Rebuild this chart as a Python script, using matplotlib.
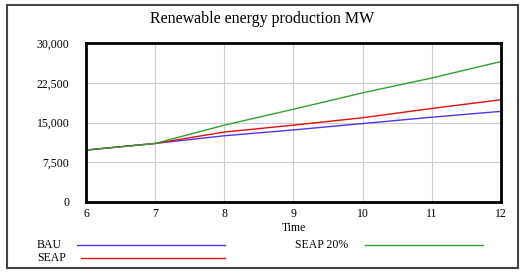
import matplotlib.pyplot as plt
from matplotlib.lines import Line2D
from matplotlib.patches import Rectangle

plt.rcParams['font.family'] = ['Liberation Serif', 'DejaVu Serif']

time = [6, 7, 8, 9, 10, 11, 12]
bau = [9800, 11050, 12500, 13600, 14800, 16000, 17100]
seap = [9800, 11050, 13200, 14500, 15900, 17650, 19300]
seap20 = [9800, 11050, 14500, 17500, 20600, 23400, 26500]
names = ['BAU', 'SEAP', 'SEAP 20%']
colors = ['#5533ee', '#e01010', '#30a030']
yticks = [0, 7500, 15000, 22500, 30000]

W, H = 527, 273
fig = plt.figure(figsize=(W / 100, H / 100), dpi=100)
fig.patches.append(Rectangle((7 / W, 1 - 268 / H), 511 / W, 263 / H,
                             transform=fig.transFigure, fill=False,
                             edgecolor='#444444', linewidth=1.5))

ax = fig.add_axes([86 / W, 1 - 202 / H, 415 / W, 159 / H])
series = [bau, seap, seap20]
for vals, c in zip(series, colors):
    ax.plot(time, vals, color=c, linewidth=1.0)

ax.set_xlim(6, 12)
ax.set_ylim(0, 30000)
ax.set_xticks(time)
ax.set_yticks(yticks)
ax.set_yticklabels([f'{v:,}' for v in yticks])
ax.tick_params(length=0, labelsize=8.5, pad=4)
ax.tick_params(axis='y', pad=12)
ax.grid(color='#cccccc', linewidth=0.8)
for s in ax.spines.values():
    s.set_linewidth(2)
    s.set_color('black')
ax.set_xlabel('Time', fontsize=8.5, labelpad=2)
fig.text(262 / W, 1 - 19 / H, 'Renewable energy production MW',
         ha='center', va='center', fontsize=11.5)

# legend drawn below the axes
leg = [(names[0], 37, 245, 77, 225),
       (names[1], 37, 258, 81, 225),
       (names[2], 295, 245, 365, 483)]
for (label, tx, ty, x0, x1), c in zip(leg, colors):
    fig.text(tx / W, 1 - ty / H, label, ha='left', va='center', fontsize=8.5)
    fig.lines.append(Line2D([x0 / W, x1 / W], [1 - ty / H, 1 - ty / H],
                            transform=fig.transFigure, color=c, linewidth=1.0))

fig.savefig('out.png', dpi=100)
